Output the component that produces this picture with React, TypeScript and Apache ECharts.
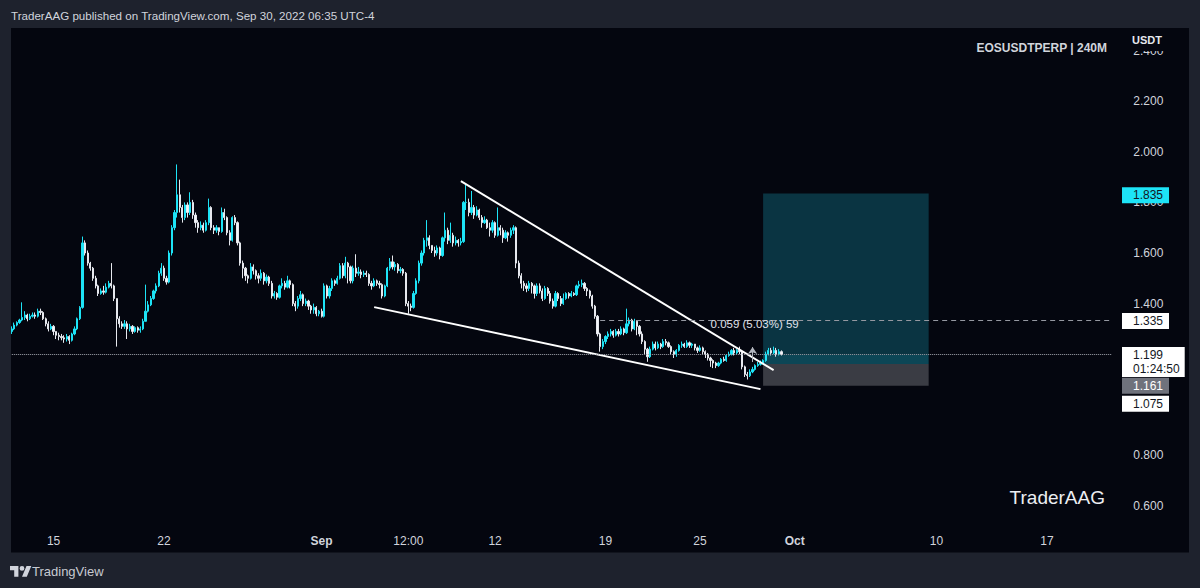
import React, { useEffect, useRef } from "react";
import * as echarts from "echarts";

// ---------- DATA (4h candles, EOSUSDTPERP) ----------
const FIRST_OPEN = 1.29;
const CLOSES = [
  1.300, 1.315, 1.325, 1.335, 1.345, 1.355, 1.340, 1.350, 1.355, 1.350,
  1.370, 1.365, 1.340, 1.320, 1.300, 1.310, 1.290, 1.275, 1.270, 1.265,
  1.260, 1.270, 1.255, 1.280, 1.300, 1.340, 1.385, 1.640, 1.600, 1.560,
  1.540, 1.500, 1.470, 1.440, 1.450, 1.445, 1.465, 1.480, 1.470, 1.420,
  1.340, 1.320, 1.310, 1.320, 1.300, 1.310, 1.290, 1.305, 1.295, 1.300,
  1.330, 1.370, 1.395, 1.420, 1.450, 1.470, 1.520, 1.540, 1.500, 1.485,
  1.600, 1.700, 1.760, 1.830, 1.780, 1.740, 1.790, 1.760, 1.800, 1.750,
  1.720, 1.700, 1.710, 1.690, 1.720, 1.780, 1.700, 1.690, 1.700, 1.685,
  1.760, 1.740, 1.680, 1.650, 1.740, 1.720, 1.640, 1.560, 1.540, 1.510,
  1.500, 1.545, 1.530, 1.510, 1.500, 1.520, 1.490, 1.505, 1.480, 1.430,
  1.440, 1.425, 1.470, 1.480, 1.465, 1.490, 1.475, 1.400, 1.390, 1.420,
  1.435, 1.400, 1.410, 1.390, 1.375, 1.385, 1.360, 1.370, 1.350, 1.470,
  1.430, 1.460, 1.490, 1.480, 1.500, 1.550, 1.510, 1.560, 1.545, 1.490,
  1.540, 1.520, 1.525, 1.515, 1.520, 1.515, 1.480, 1.470, 1.490, 1.480,
  1.475, 1.430, 1.470, 1.540, 1.565, 1.545, 1.555, 1.530, 1.535, 1.520,
  1.400, 1.390, 1.385, 1.440, 1.490, 1.560, 1.600, 1.650, 1.660, 1.630,
  1.610, 1.600, 1.620, 1.590, 1.660, 1.690, 1.650, 1.670, 1.640, 1.650,
  1.640, 1.645, 1.800, 1.800, 1.760, 1.780, 1.750, 1.770, 1.740, 1.720,
  1.730, 1.700, 1.690, 1.720, 1.670, 1.700, 1.690, 1.660, 1.680, 1.670,
  1.690, 1.700, 1.560, 1.510, 1.480, 1.470, 1.460, 1.480, 1.470, 1.440,
  1.470, 1.450, 1.420, 1.460, 1.440, 1.410, 1.390, 1.440, 1.420, 1.400,
  1.420, 1.440, 1.430, 1.440, 1.435, 1.470, 1.475, 1.480, 1.460, 1.450,
  1.430, 1.390, 1.350, 1.280, 1.230, 1.250, 1.270, 1.280, 1.290, 1.275,
  1.290, 1.280, 1.300, 1.285, 1.320, 1.335, 1.300, 1.330, 1.310, 1.280,
  1.250, 1.220, 1.190, 1.220, 1.240, 1.225, 1.240, 1.230, 1.250, 1.245,
  1.230, 1.210, 1.200, 1.215, 1.235, 1.240, 1.230, 1.245, 1.235, 1.240,
  1.225, 1.215, 1.225, 1.210, 1.200, 1.185, 1.175, 1.165, 1.155, 1.165,
  1.180, 1.175, 1.195, 1.200, 1.215, 1.205, 1.215, 1.210, 1.150, 1.120,
  1.115, 1.130, 1.140, 1.155, 1.160, 1.165, 1.175, 1.200, 1.215, 1.205,
  1.215, 1.200, 1.210, 1.199,
];
const HIGHS = [
  1.310, 1.325, 1.330, 1.340, 1.405, 1.370, 1.360, 1.360, 1.365, 1.365,
  1.380, 1.380, 1.370, 1.345, 1.330, 1.320, 1.315, 1.290, 1.285, 1.280,
  1.275, 1.280, 1.275, 1.285, 1.310, 1.345, 1.390, 1.665, 1.650, 1.610,
  1.565, 1.545, 1.510, 1.475, 1.460, 1.470, 1.480, 1.490, 1.560, 1.475,
  1.420, 1.350, 1.330, 1.335, 1.330, 1.320, 1.315, 1.310, 1.310, 1.310,
  1.340, 1.475, 1.410, 1.430, 1.455, 1.480, 1.530, 1.560, 1.550, 1.510,
  1.610, 1.710, 1.770, 1.950, 1.890, 1.790, 1.800, 1.800, 1.840, 1.810,
  1.760, 1.730, 1.725, 1.720, 1.730, 1.815, 1.785, 1.710, 1.710, 1.700,
  1.780, 1.775, 1.745, 1.690, 1.745, 1.750, 1.725, 1.645, 1.570, 1.545,
  1.515, 1.560, 1.555, 1.535, 1.520, 1.535, 1.525, 1.515, 1.510, 1.490,
  1.450, 1.445, 1.475, 1.500, 1.490, 1.510, 1.495, 1.480, 1.410, 1.430,
  1.450, 1.440, 1.420, 1.415, 1.395, 1.400, 1.390, 1.375, 1.380, 1.480,
  1.475, 1.470, 1.500, 1.495, 1.510, 1.560, 1.560, 1.585, 1.565, 1.550,
  1.550, 1.595, 1.545, 1.535, 1.530, 1.530, 1.520, 1.490, 1.500, 1.495,
  1.490, 1.480, 1.475, 1.545, 1.580, 1.590, 1.565, 1.560, 1.545, 1.540,
  1.525, 1.410, 1.400, 1.450, 1.500, 1.570, 1.610, 1.660, 1.730, 1.670,
  1.630, 1.625, 1.630, 1.625, 1.665, 1.760, 1.700, 1.720, 1.680, 1.665,
  1.655, 1.660, 1.805, 1.870, 1.815, 1.845, 1.790, 1.785, 1.775, 1.750,
  1.745, 1.735, 1.720, 1.730, 1.725, 1.780, 1.710, 1.700, 1.690, 1.685,
  1.700, 1.710, 1.705, 1.570, 1.520, 1.490, 1.480, 1.490, 1.485, 1.475,
  1.480, 1.480, 1.460, 1.470, 1.465, 1.450, 1.420, 1.450, 1.445, 1.430,
  1.440, 1.445, 1.445, 1.450, 1.445, 1.475, 1.490, 1.495, 1.485, 1.465,
  1.455, 1.435, 1.395, 1.355, 1.285, 1.260, 1.275, 1.290, 1.300, 1.295,
  1.300, 1.300, 1.310, 1.305, 1.380, 1.345, 1.340, 1.340, 1.335, 1.315,
  1.290, 1.255, 1.225, 1.230, 1.250, 1.250, 1.250, 1.245, 1.260, 1.260,
  1.250, 1.235, 1.215, 1.220, 1.240, 1.250, 1.245, 1.255, 1.250, 1.245,
  1.240, 1.230, 1.235, 1.230, 1.215, 1.205, 1.190, 1.180, 1.170, 1.170,
  1.185, 1.190, 1.200, 1.210, 1.220, 1.225, 1.220, 1.230, 1.215, 1.155,
  1.130, 1.140, 1.150, 1.160, 1.170, 1.175, 1.180, 1.210, 1.225, 1.225,
  1.230, 1.225, 1.220, 1.215,
];
const LOWS = [
  1.280, 1.295, 1.310, 1.320, 1.330, 1.335, 1.330, 1.335, 1.345, 1.340,
  1.345, 1.355, 1.335, 1.310, 1.290, 1.295, 1.275, 1.260, 1.255, 1.255,
  1.245, 1.250, 1.240, 1.250, 1.275, 1.295, 1.335, 1.380, 1.590, 1.550,
  1.530, 1.490, 1.460, 1.430, 1.435, 1.435, 1.440, 1.460, 1.460, 1.410,
  1.230, 1.305, 1.300, 1.300, 1.260, 1.290, 1.280, 1.285, 1.285, 1.285,
  1.295, 1.330, 1.365, 1.390, 1.415, 1.440, 1.465, 1.510, 1.490, 1.475,
  1.480, 1.590, 1.690, 1.740, 1.760, 1.720, 1.730, 1.740, 1.750, 1.735,
  1.700, 1.680, 1.690, 1.680, 1.685, 1.710, 1.690, 1.675, 1.680, 1.670,
  1.680, 1.730, 1.670, 1.630, 1.645, 1.710, 1.630, 1.550, 1.500, 1.490,
  1.480, 1.495, 1.515, 1.495, 1.480, 1.490, 1.475, 1.480, 1.470, 1.420,
  1.420, 1.415, 1.420, 1.460, 1.455, 1.460, 1.460, 1.390, 1.370, 1.380,
  1.410, 1.390, 1.390, 1.375, 1.360, 1.360, 1.350, 1.350, 1.345, 1.345,
  1.420, 1.420, 1.450, 1.470, 1.475, 1.495, 1.500, 1.500, 1.480, 1.480,
  1.480, 1.505, 1.510, 1.500, 1.505, 1.505, 1.470, 1.455, 1.465, 1.470,
  1.460, 1.420, 1.425, 1.465, 1.530, 1.535, 1.530, 1.520, 1.520, 1.510,
  1.390, 1.360, 1.370, 1.380, 1.435, 1.480, 1.550, 1.590, 1.625, 1.615,
  1.600, 1.585, 1.590, 1.575, 1.585, 1.645, 1.635, 1.640, 1.625, 1.630,
  1.625, 1.630, 1.640, 1.770, 1.745, 1.750, 1.735, 1.745, 1.730, 1.700,
  1.715, 1.695, 1.665, 1.680, 1.660, 1.665, 1.670, 1.640, 1.655, 1.645,
  1.660, 1.675, 1.540, 1.500, 1.460, 1.450, 1.445, 1.450, 1.440, 1.420,
  1.430, 1.440, 1.410, 1.415, 1.430, 1.400, 1.380, 1.385, 1.410, 1.390,
  1.395, 1.415, 1.420, 1.425, 1.430, 1.430, 1.460, 1.465, 1.450, 1.430,
  1.420, 1.380, 1.340, 1.270, 1.210, 1.220, 1.240, 1.260, 1.270, 1.265,
  1.270, 1.270, 1.275, 1.275, 1.280, 1.310, 1.290, 1.295, 1.275, 1.270,
  1.240, 1.200, 1.170, 1.185, 1.215, 1.215, 1.220, 1.220, 1.225, 1.235,
  1.225, 1.200, 1.185, 1.190, 1.210, 1.225, 1.225, 1.225, 1.225, 1.225,
  1.215, 1.205, 1.210, 1.200, 1.185, 1.175, 1.150, 1.145, 1.145, 1.150,
  1.160, 1.170, 1.170, 1.190, 1.195, 1.195, 1.200, 1.200, 1.140, 1.110,
  1.100, 1.110, 1.125, 1.135, 1.150, 1.155, 1.160, 1.170, 1.195, 1.195,
  1.200, 1.190, 1.195, 1.195,
];

// time slots (4h each) on the category axis, including empty future space
const FIRST_SLOT_UTC = Date.UTC(2022, 7, 12, 8, 0);
const SLOT_HOURS = 4;
const SLOT_COUNT = 419;

const X_TICKS: [string, string][] = [
  ["2022-08-15 00:00", "15"],
  ["2022-08-22 00:00", "22"],
  ["2022-09-01 00:00", "Sep"],
  ["2022-09-06 12:00", "12:00"],
  ["2022-09-12 00:00", "12"],
  ["2022-09-19 00:00", "19"],
  ["2022-09-25 00:00", "25"],
  ["2022-10-01 00:00", "Oct"],
  ["2022-10-10 00:00", "10"],
  ["2022-10-17 00:00", "17"],
];
const BOLD_TICKS = ["Sep", "Oct"];

const Y_MIN = 0.4;
const Y_MAX = 2.6;
const Y_STEP = 0.2;
// axis ticks that sit fully behind a price box in the reference
const Y_COVERED = ["1.200", "1.000"];

// price levels & drawings
const LAST_PRICE = 1.199;
const COUNTDOWN = "01:24:50";
const TARGET_PRICE = 1.835;
const ENTRY_PRICE = 1.161;
const STOP_PRICE = 1.075;
const ALERT_PRICE = 1.335;
const ALERT_FROM = 224;
const POSITION_FROM = 286;
const POSITION_TO = 349;
const UPPER_LINE: [number, number][] = [[171, 1.884], [290, 1.137]];
const LOWER_LINE: [number, number][] = [[138, 1.386], [285, 1.062]];
const ARROW_LINE: [number, number][] = [[282, 1.169], [282, 1.228]];
const MEASURE_POINT: [number, number] = [266, 1.318];
const MEASURE_TEXT = "0.059 (5.03%) 59";

const HEADER = "TraderAAG published on TradingView.com, Sep 30, 2022 06:35 UTC-4";
const SYMBOL_TITLE = "EOSUSDTPERP | 240M";
const CURRENCY = "USDT";
const WATERMARK = "TraderAAG";

// ---------- STYLE ----------
const FRAME = "#1e222d";
const PANE = "#04060f";
const UP = "#1de3f6";
const DOWN = "#f4f6fa";
const TXT = "#d1d4dc";
const FONT = '"Liberation Sans", Arial, sans-serif';
const NO_LINE = { color: "rgba(0,0,0,0)", width: 0 };

const LOGO_PATH =
  "M14 22H7V11H0V4h14v18zM28 22h-8l7.5-18h8L28 22zM16 8a4 4 0 1 0 8 0a4 4 0 1 0 -8 0z";
echarts.graphic.registerShape("tvLogo", echarts.graphic.extendPath(LOGO_PATH, {}));

function pad(n: number) {
  return n < 10 ? "0" + n : "" + n;
}
function slotName(i: number) {
  const d = new Date(FIRST_SLOT_UTC + i * SLOT_HOURS * 3600 * 1000);
  return (
    d.getUTCFullYear() + "-" + pad(d.getUTCMonth() + 1) + "-" + pad(d.getUTCDate()) +
    " " + pad(d.getUTCHours()) + ":" + pad(d.getUTCMinutes())
  );
}

function priceBox(text: string, bg: string, fg: string, offsetY: number, lines = 1) {
  return {
    show: true,
    position: "end",
    distance: 10.7,
    formatter: text,
    backgroundColor: bg,
    color: fg,
    fontSize: 12,
    fontFamily: FONT,
    lineHeight: lines > 1 ? 14 : 13,
    padding: lines > 1 ? [1, 5, 1, 11] : [2, 6, 1, 11],
    offset: [0, offsetY],
  };
}

function buildOption(): any {
  const categories: string[] = [];
  for (let i = 0; i < SLOT_COUNT; i++) categories.push(slotName(i));
  const tickMap: Record<string, string> = {};
  X_TICKS.forEach(([k, v]) => (tickMap[k] = v));

  const candles = CLOSES.map((c, i) => [
    i === 0 ? FIRST_OPEN : CLOSES[i - 1],
    c,
    LOWS[i],
    HIGHS[i],
  ]);

  return {
    animation: false,
    backgroundColor: PANE,
    textStyle: { fontFamily: FONT },
    grid: {
      left: 10.2,
      right: 88.7,
      top: 0,
      bottom: 31.4,
      containLabel: false,
      outerBoundsMode: "none",
    },
    xAxis: {
      type: "category",
      data: categories,
      boundaryGap: true,
      offset: -23.6,
      axisLine: { show: false },
      axisTick: { show: false },
      splitLine: { show: false },
      axisLabel: {
        margin: 2,
        color: TXT,
        fontSize: 12,
        fontFamily: FONT,
        interval: (_idx: number, val: string) => tickMap[val] !== undefined,
        formatter: (val: string) => {
          const t = tickMap[val] || "";
          return BOLD_TICKS.indexOf(t) >= 0 ? "{b|" + t + "}" : t;
        },
        rich: {
          b: { fontWeight: "bold", color: TXT, fontSize: 12, fontFamily: FONT },
        },
      },
    },
    yAxis: {
      type: "value",
      position: "right",
      min: Y_MIN,
      max: Y_MAX,
      interval: Y_STEP,
      axisLine: { show: false },
      axisTick: { show: false },
      splitLine: { show: false },
      axisLabel: {
        margin: 22,
        color: TXT,
        fontSize: 12,
        fontFamily: FONT,
        showMinLabel: false,
        showMaxLabel: false,
        formatter: (v: number) => {
          const s = v.toFixed(3);
          return Y_COVERED.indexOf(s) >= 0 ? "" : s;
        },
      },
    },
    series: [
      {
        type: "candlestick",
        data: candles,
        barWidth: "65%",
        z: 3,
        itemStyle: {
          color: UP,
          color0: DOWN,
          borderColor: UP,
          borderColor0: "#e6e8ee",
          borderWidth: 1,
        },
        markArea: {
          silent: true,
          z: 1,
          data: [
            [
              { coord: [POSITION_FROM, TARGET_PRICE], itemStyle: { color: "#0a3442" } },
              { coord: [POSITION_TO, LAST_PRICE] },
            ],
            [
              { coord: [POSITION_FROM, LAST_PRICE], itemStyle: { color: "#0c4656" } },
              { coord: [POSITION_TO, ENTRY_PRICE] },
            ],
            [
              { coord: [POSITION_FROM, ENTRY_PRICE], itemStyle: { color: "#3a3c44" } },
              { coord: [POSITION_TO, STOP_PRICE] },
            ],
          ],
        },
        markLine: {
          silent: true,
          symbol: ["none", "none"],
          z: 5,
          label: { show: false },
          data: [
            [
              { coord: UPPER_LINE[0], lineStyle: { color: "#ffffff", width: 2, type: "solid" } },
              { coord: UPPER_LINE[1] },
            ],
            [
              { coord: LOWER_LINE[0], lineStyle: { color: "#ffffff", width: 2, type: "solid" } },
              { coord: LOWER_LINE[1] },
            ],
            [
              {
                coord: ARROW_LINE[0],
                symbol: "none",
                lineStyle: { color: "#b2b5be", width: 1, type: "solid" },
              },
              { coord: ARROW_LINE[1], symbol: "arrow", symbolSize: 7 },
            ],
            [
              {
                coord: [ALERT_FROM, ALERT_PRICE],
                lineStyle: { color: "#9598a1", width: 1, type: [5, 4] },
                label: { ...priceBox(ALERT_PRICE.toFixed(3), "#ffffff", "#131722", 1), distance: 12 },
              },
              { coord: [SLOT_COUNT - 1, ALERT_PRICE] },
            ],
            {
              yAxis: LAST_PRICE,
              lineStyle: { color: "#a3a6af", width: 1, type: "dotted" },
              label: priceBox(LAST_PRICE.toFixed(3) + "\n" + COUNTDOWN, "#ffffff", "#131722", 7.8, 2),
            },
            {
              yAxis: TARGET_PRICE,
              lineStyle: NO_LINE,
              label: priceBox(TARGET_PRICE.toFixed(3), UP, "#131722", 0.5),
            },
            {
              yAxis: ENTRY_PRICE,
              lineStyle: NO_LINE,
              label: priceBox(ENTRY_PRICE.toFixed(3), "#6f727c", "#ffffff", 21.4),
            },
            {
              yAxis: STOP_PRICE,
              lineStyle: NO_LINE,
              label: priceBox(STOP_PRICE.toFixed(3), "#ffffff", "#131722", 16.7),
            },
          ],
        },
        markPoint: {
          silent: true,
          symbol: "circle",
          symbolSize: 0,
          z: 6,
          data: [
            {
              coord: MEASURE_POINT,
              label: {
                show: true,
                position: "right",
                distance: 0,
                formatter: MEASURE_TEXT,
                color: "#e0e3eb",
                fontSize: 11.5,
                fontFamily: FONT,
              },
            },
          ],
        },
      },
    ],
    graphic: {
      elements: [
        { type: "rect", z: 100, silent: true, shape: { x: 0, y: 0, width: 1200, height: 28 }, style: { fill: FRAME } },
        { type: "rect", z: 100, silent: true, shape: { x: 0, y: 552.5, width: 1200, height: 36 }, style: { fill: FRAME } },
        { type: "rect", z: 100, silent: true, shape: { x: 0, y: 0, width: 11, height: 588 }, style: { fill: FRAME } },
        { type: "rect", z: 100, silent: true, shape: { x: 1189, y: 0, width: 11, height: 588 }, style: { fill: FRAME } },
        { type: "rect", z: 100, silent: true, shape: { x: 1112, y: 28, width: 77, height: 23 }, style: { fill: PANE } },
        {
          type: "text", z: 101, silent: true, x: 11, y: 15.5,
          style: { text: HEADER, fill: TXT, font: "11.6px " + FONT, align: "left", verticalAlign: "middle" },
        },
        {
          type: "text", z: 101, silent: true, x: 1132, y: 40,
          style: { text: CURRENCY, fill: "#e6e8ee", font: "bold 11px " + FONT, align: "left", verticalAlign: "middle" },
        },
        {
          type: "text", z: 101, silent: true, x: 1107, y: 48,
          style: { text: SYMBOL_TITLE, fill: TXT, font: "bold 12px " + FONT, align: "right", verticalAlign: "middle" },
        },
        {
          type: "text", z: 101, silent: true, x: 1105, y: 497.5,
          style: { text: WATERMARK, fill: "#eceef2", font: "19px " + FONT, align: "right", verticalAlign: "middle" },
        },
        {
          type: "tvLogo", z: 101, silent: true, x: 10, y: 563.6, scaleX: 0.6, scaleY: 0.6,
          style: { fill: "#d1d4dc" },
        },
        {
          type: "text", z: 101, silent: true, x: 32, y: 571,
          style: { text: "TradingView", fill: "#c8cad2", font: "13px " + FONT, align: "left", verticalAlign: "middle" },
        },
      ],
    },
  };
}

export default function App() {
  const ref = useRef<HTMLDivElement>(null);
  useEffect(() => {
    if (!ref.current) return;
    const chart = echarts.init(ref.current, null, { renderer: "svg" });
    chart.setOption(buildOption());
    return () => chart.dispose();
  }, []);
  return (
    <div style={{ position: "fixed", left: 0, top: 0, width: 1200, height: 588, background: FRAME }}>
      <div ref={ref} style={{ width: 1200, height: 588 }} />
    </div>
  );
}
